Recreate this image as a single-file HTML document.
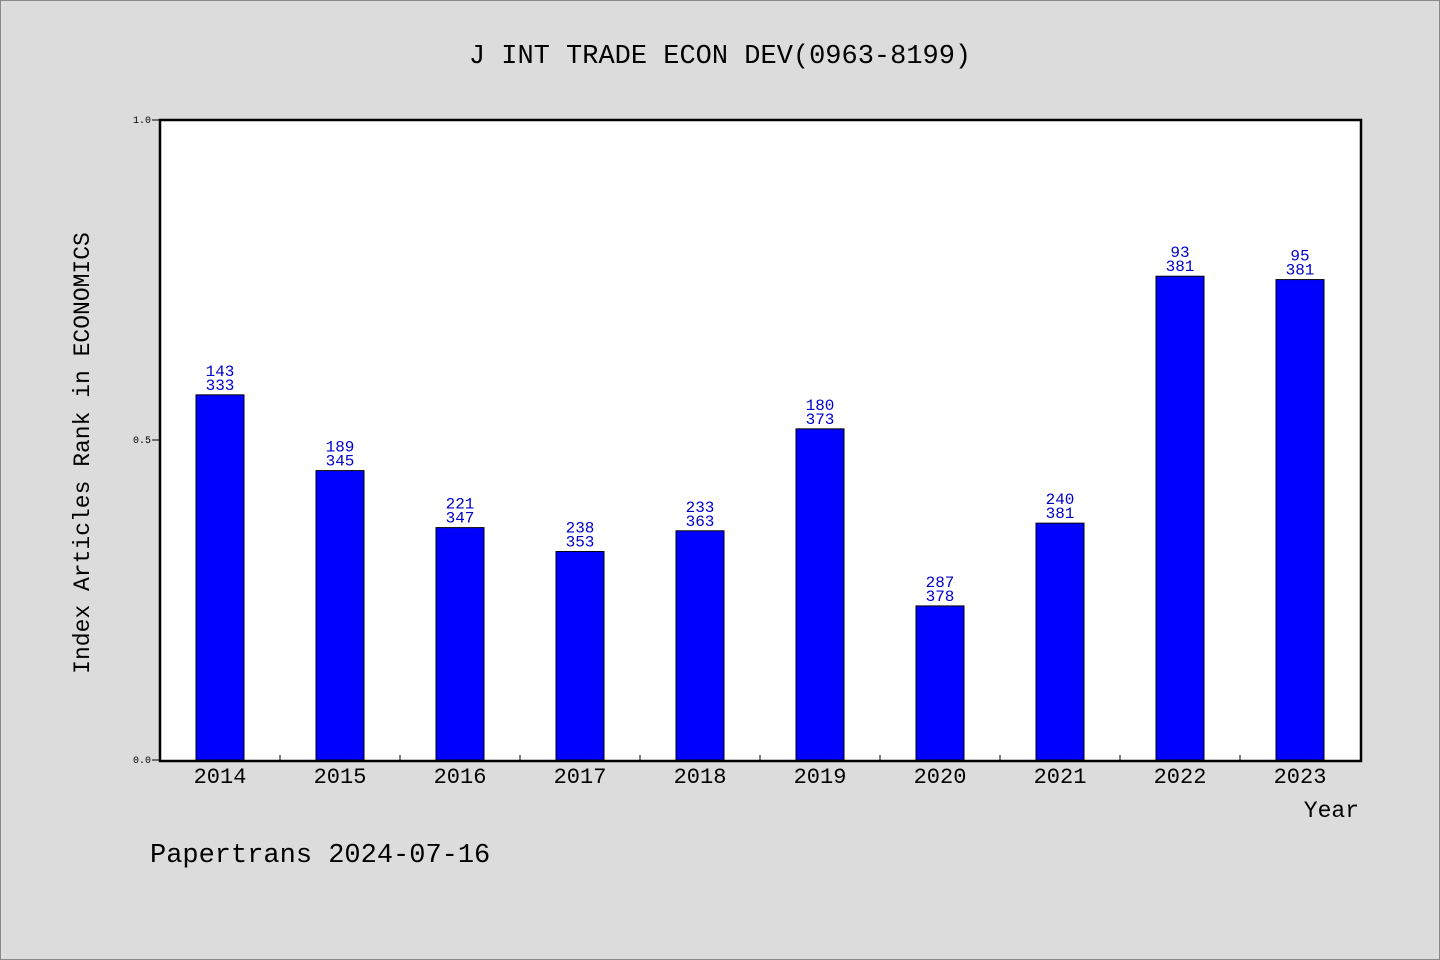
<!DOCTYPE html>
<html><head><meta charset="utf-8"><style>
html,body{margin:0;padding:0;background:#dcdcdc;}
svg{display:block;font-family:"WenQuanYi Zen Hei","Liberation Mono",monospace;}
</style></head><body>
<svg id="chart" width="1440" height="960">
<rect x="0.5" y="0.5" width="1439" height="959" fill="#dcdcdc" stroke="#888"/>
<text x="720" y="63" font-size="27" text-anchor="middle" fill="#000">J INT TRADE ECON DEV(0963-8199)</text>
<rect x="160" y="120" width="1201" height="641" fill="#fff" stroke="#000" stroke-width="2.5"/>
<g id="bars"></g>
<g id="axes"></g>
<text transform="translate(89,453) rotate(-90)" font-size="23" text-anchor="middle" fill="#000">Index Articles Rank in ECONOMICS</text>
<text x="1359" y="817" font-size="23" text-anchor="end" fill="#000">Year</text>
<text x="150" y="862" font-size="27" fill="#000">Papertrans 2024-07-16</text>
</svg>
<script>
const years = ["2014","2015","2016","2017","2018","2019","2020","2021","2022","2023"];
const ranks = [143,189,221,238,233,180,287,240,93,95];
const totals = [333,345,347,353,363,373,378,381,381,381];
const yTicks = ["0.0","0.5","1.0"];

const NS="http://www.w3.org/2000/svg";
const x0=160, catW=120, yBase=760, yScale=640;
const xC=i=>x0+catW*(i+0.5);
const yS=v=>yBase-v*yScale;
const bars=document.getElementById('bars'), axes=document.getElementById('axes');
function mk(tag,attrs,parent){const e=document.createElementNS(NS,tag);for(const k in attrs)e.setAttribute(k,attrs[k]);parent.appendChild(e);return e;}
years.forEach((yr,i)=>{
  const v=1-ranks[i]/totals[i];
  const r=mk('rect',{x:xC(i)-24,y:yS(v),width:48,height:yBase-yS(v),fill:'#0000ff',stroke:'#000','stroke-width':1},bars);
  
  
  const t1=mk('text',{x:xC(i),y:yS(v)-19,'font-size':16,'text-anchor':'middle',fill:'#0000cc'},bars);
  t1.textContent=ranks[i];
  
  
  const t2=mk('text',{x:xC(i),y:yS(v)-5,'font-size':16,'text-anchor':'middle',fill:'#0000cc'},bars);
  t2.textContent=totals[i];
  
  
  const xl=mk('text',{x:xC(i),y:783,'font-size':22,'text-anchor':'middle',fill:'#000'},axes);
  xl.textContent=yr;
  
  
  if(i>0){
    const tk=mk('line',{x1:x0+catW*i,x2:x0+catW*i,y1:755,y2:761,stroke:'#000'},axes);
    
    
  }
});
yTicks.forEach(t=>{
  const y=yS(parseFloat(t));
  const l=mk('line',{x1:152,x2:160,y1:y,y2:y,stroke:'#000'},axes);
  
  
  const tx=mk('text',{x:151,y:y+3,'font-size':10,'text-anchor':'end',fill:'#000'},axes);
  tx.textContent=t;
  
  
});
</script>
</body></html>
